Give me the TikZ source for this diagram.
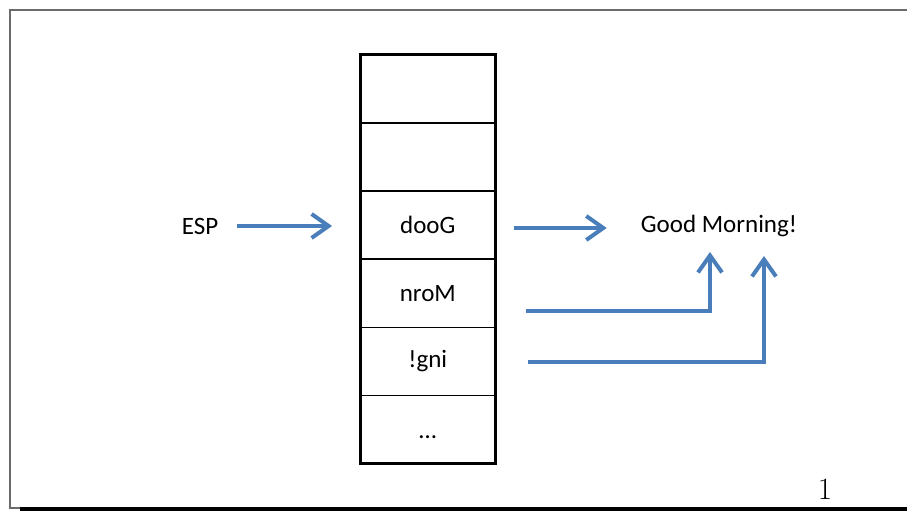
\documentclass[tikz,border=0pt]{standalone}
\usepackage{fontspec}
\newfontfamily\carlito{Carlito}
\usetikzlibrary{arrows.meta,calc}
\definecolor{arrblue}{HTML}{4A7EBB}
\definecolor{framegray}{HTML}{6B6B6B}
\tikzset{
  cell/.style={draw=black, line width=1.6pt, outer sep=0pt, minimum width=135.5pt, minimum height=68.2pt, inner sep=0pt, font=\carlito\fontsize{25}{30}\selectfont},
  lbl/.style={inner sep=0pt, font=\carlito\fontsize{25}{30}\selectfont},
  arr/.style={draw=arrblue, line width=4pt, -{Straight Barb[length=17pt,width=24pt]}},
}
\begin{document}
\begin{tikzpicture}[x=1pt,y=-1pt]
\useasboundingbox (0,0) rectangle (907,511);
% page frame
\draw[framegray, line width=2pt] (907,10) -- (10,10) -- (10,507.7) -- (20,507.7);
\fill[black] (20,507) rectangle (907,511);
\node[font=\fontsize{31}{36}\selectfont, anchor=base, inner sep=0pt] (pg) at (825,499) {1};
% stack
\node[cell] (c1) at (427.8,88.6) {};
\node[cell, anchor=north] (c2) at (c1.south) {};
\node[cell, anchor=north] (c3) at (c2.south) {dooG};
\node[cell, anchor=north] (c4) at (c3.south) {nroM};
\node[cell, anchor=north] (c5) at (c4.south) {!gni};
\node[cell, anchor=north] (c6) at (c5.south) {\vphantom{dG}\dots};
\draw[black, line width=3pt] (c1.north west) rectangle (c6.south east);
% labels
\node[lbl] (esp) at (200,226) {ESP};
\node[lbl] (gm) at (719,226) {Good Morning!};
\coordinate (t1) at (710,252);
\coordinate (t2) at (764,256);
% arrows
\draw[arr] ([xshift=19pt]esp.east) -- ([xshift=-28pt]esp.east -| c3.west);
\draw[arr] ([xshift=18.5pt,yshift=-3pt]c3.east) -- ([xshift=-34pt,yshift=-3pt]c3.east -| gm.west);
\draw[arr] ([xshift=30.5pt,yshift=-18pt]c4.east) -| (t1);
\draw[arr] ([xshift=32.5pt,yshift=-0.7pt]c5.east) -| (t2);
\end{tikzpicture}
\end{document}
